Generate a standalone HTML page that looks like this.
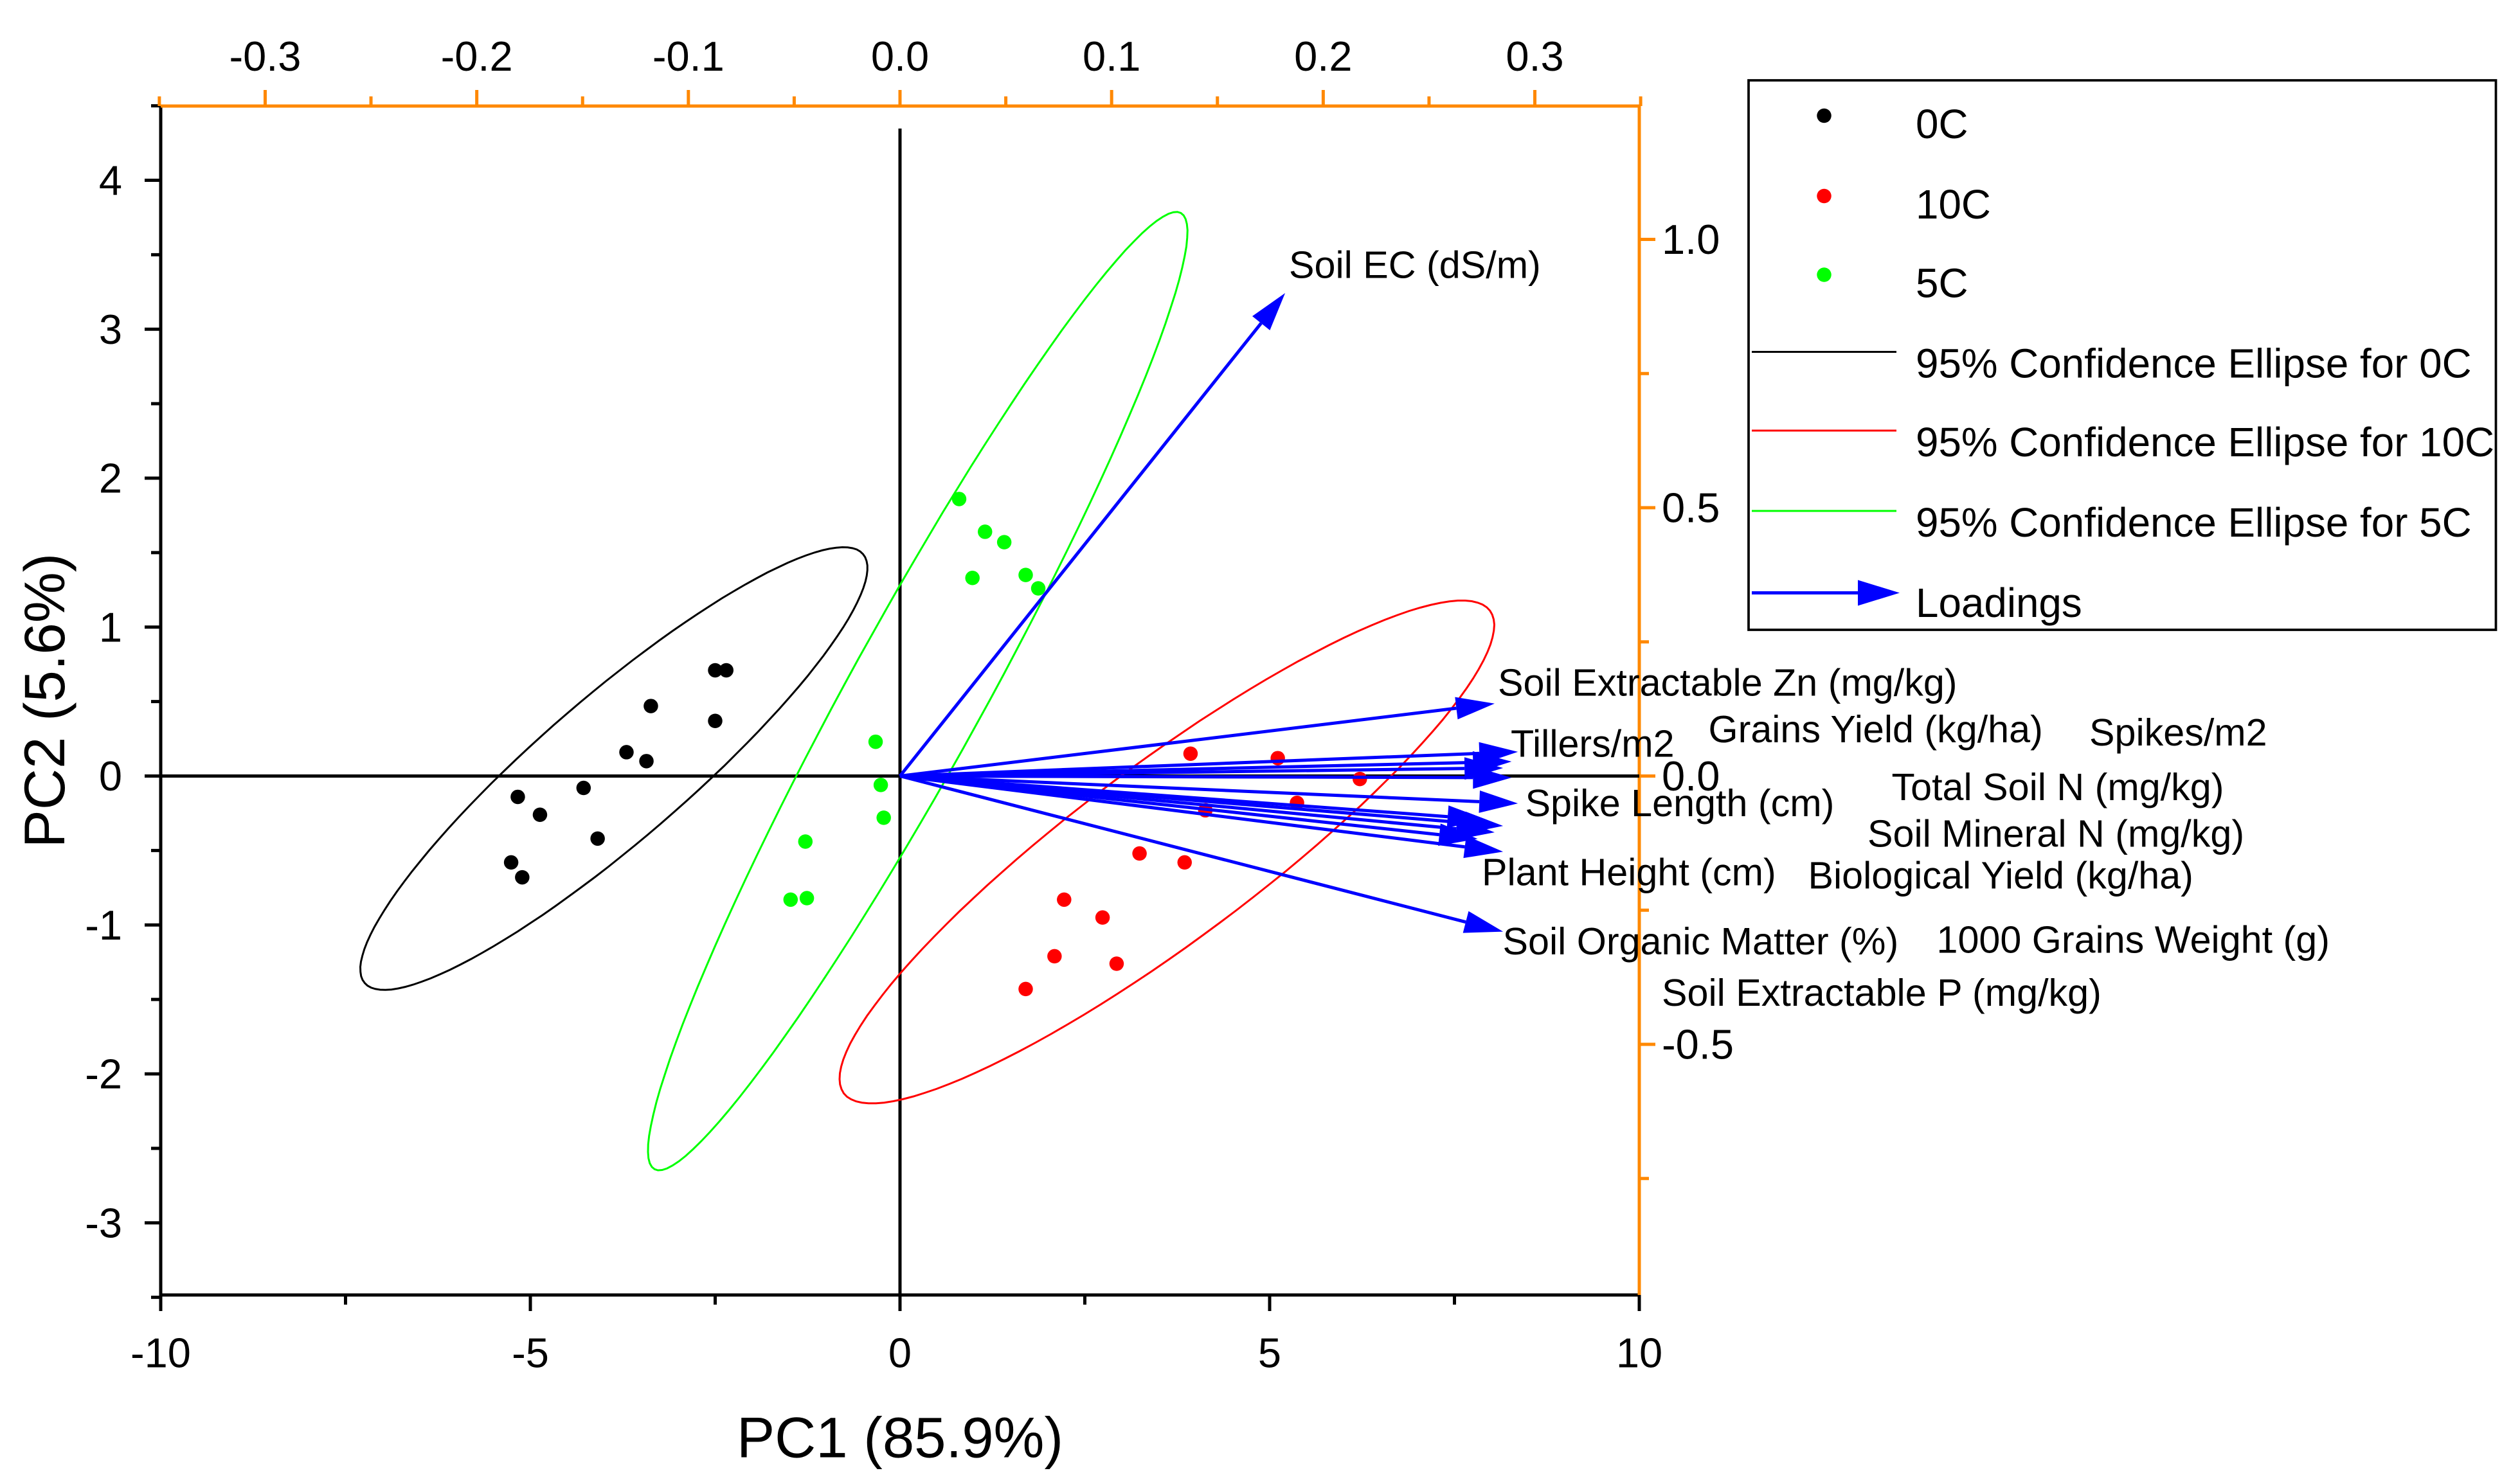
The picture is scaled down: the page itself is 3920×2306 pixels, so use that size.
<!DOCTYPE html>
<html><head><meta charset="utf-8"><style>
html,body{margin:0;padding:0;background:#fff}
svg{display:block;font-family:"Liberation Sans",sans-serif}
</style></head><body>
<svg id="chart" width="3920" height="2306" viewBox="0 0 1568 922.4" xmlns="http://www.w3.org/2000/svg">
<g id="g"></g>
</svg>
<script>
// ---- data ----
const black_x=[-2.5,-2.35,-3.37,-3.70,-3.43,-2.50,-4.28,-5.17,-4.87,-4.09,-5.26,-5.11];
const black_y=[0.71,0.71,0.47,0.16,0.10,0.37,-0.08,-0.14,-0.26,-0.42,-0.58,-0.68];
const red_x=[3.93,5.11,6.22,5.37,4.13,3.24,3.85,2.22,2.74,2.09,2.93,1.70];
const red_y=[0.15,0.12,-0.02,-0.18,-0.23,-0.52,-0.58,-0.83,-0.95,-1.21,-1.26,-1.43];
const green_x=[0.80,1.15,1.41,1.70,0.98,1.87,-0.33,-0.26,-0.22,-1.28,-1.26,-1.48];
const green_y=[1.86,1.64,1.57,1.35,1.33,1.26,0.23,-0.06,-0.28,-0.44,-0.82,-0.83];
const load_names=["soil-ec","soil-zn","tillers","grains-yield","spikes","total-soil-n","spike-length","soil-mineral-n","plant-height","biological-yield","grains-weight","soil-p","soil-om"];
const load_x=[0.182,0.281,0.292,0.289,0.285,0.289,0.292,0.285,0.285,0.277,0.281,0.273,0.285];
const load_y=[0.90,0.135,0.045,0.027,0.015,-0.003,-0.051,-0.093,-0.141,-0.081,-0.105,-0.117,-0.290];
const ell_cx=[-3.87,0.24,3.61], ell_cy=[0.05,0.57,-0.51];
const ell_ex=[-0.5,3.80,7.98], ell_ey=[1.49,3.78,1.11];
const ell_minor=[45,42,55];
const ell_col=["#000","#0f0","#f00"];
const xticks=[-10,-5,0,5,10], yticks=[-3,-2,-1,0,1,2,3,4];
const tticks=[-0.3,-0.2,-0.1,0.0,0.1,0.2,0.3], rticks=[-0.5,0.0,0.5,1.0];

const L=100,R=1020,T=66,B=806;
const X=v=>560+v*46, Y=v=>483-v*92.7;
const TX=v=>560+v*1316.7, RY=v=>483-v*334;
const g=document.getElementById('g');
const NS="http://www.w3.org/2000/svg";
function mk(tag,at,txt){const e=document.createElementNS(NS,tag);for(const k in at)e.setAttribute(k,at[k]);if(txt!=null)e.textContent=txt;g.appendChild(e);return e;}

let e;
e=mk('line',{x1:L,y1:B,x2:R,y2:B,stroke:'#000','stroke-width':2});

e=mk('line',{x1:L,y1:T,x2:L,y2:B,stroke:'#000','stroke-width':2});

e=mk('line',{x1:L,y1:T,x2:R,y2:T,stroke:'#f80','stroke-width':2});

e=mk('line',{x1:R,y1:T,x2:R,y2:B,stroke:'#f80','stroke-width':2});

for(let v=-10;v<=10;v+=2.5){mk('line',{x1:X(v),y1:B,x2:X(v),y2:B+(v%5===0?10:6),stroke:'#000','stroke-width':2});}
xticks.forEach(v=>{e=mk('text',{x:X(v),y:B+45,'font-size':26,'text-anchor':'middle'},String(v));
});
for(let v=-3.5;v<=4.5;v+=0.5){mk('line',{x1:L,y1:Y(v),x2:L-(Number.isInteger(v)?10:6),y2:Y(v),stroke:'#000','stroke-width':2});}
yticks.forEach(v=>{e=mk('text',{x:L-24,y:Y(v)+9,'font-size':26,'text-anchor':'end'},String(v));
});
for(let v=-0.35;v<=0.35;v+=0.05){const px=TX(v);if(px<L-1||px>R+1)continue;mk('line',{x1:px,y1:T,x2:px,y2:T-(Math.abs(Math.round(v*100))%10===0?10:6),stroke:'#f80','stroke-width':2});}
tticks.forEach(v=>{e=mk('text',{x:TX(v),y:T-22,'font-size':26,'text-anchor':'middle'},v.toFixed(1));
});
for(let v=-1;v<=1.25;v+=0.25){const py=RY(v);if(py<T||py>B)continue;mk('line',{x1:R,y1:py,x2:R+(Math.abs(v*2)%1===0?10:6),y2:py,stroke:'#f80','stroke-width':2});}
rticks.forEach(v=>{e=mk('text',{x:R+14,y:RY(v)+9,'font-size':26},v.toFixed(1));
});
e=mk('text',{x:560,y:907,'font-size':35.5,'text-anchor':'middle'},'PC1 (85.9%)');

e=mk('text',{x:40,y:436,'font-size':35.5,'text-anchor':'middle',transform:'rotate(-90 40 436)'},'PC2 (5.6%)');

e=mk('line',{x1:X(0),y1:80,x2:X(0),y2:B,stroke:'#000','stroke-width':2});

e=mk('line',{x1:L,y1:Y(0),x2:R,y2:Y(0),stroke:'#000','stroke-width':2});


for(let i=0;i<3;i++){
 const cx=X(ell_cx[i]),cy=Y(ell_cy[i]),ax=X(ell_ex[i])-cx,ay=Y(ell_ey[i])-cy;
 const len=Math.hypot(ax,ay),px=-ay/len*ell_minor[i],py=ax/len*ell_minor[i];
 let d='';for(let k=0;k<=120;k++){const t=k/120*2*Math.PI;const x=cx+Math.cos(t)*ax+Math.sin(t)*px,y=cy+Math.cos(t)*ay+Math.sin(t)*py;d+=(k?'L':'M')+x.toFixed(1)+' '+y.toFixed(1);}
 e=mk('path',{d:d+'Z',fill:'none',stroke:ell_col[i],'stroke-width':1.2});
 
}
[[black_x,black_y,'#000'],[red_x,red_y,'#f00'],[green_x,green_y,'#0f0']].forEach(s=>{
 s[0].forEach((v,i)=>{e=mk('circle',{cx:X(v),cy:Y(s[1][i]),r:4.5,fill:s[2]});
 });
});
load_x.forEach((v,i)=>{
 const x0=X(0),y0=Y(0),x1=TX(v),y1=RY(load_y[i]);
 const dx=x1-x0,dy=y1-y0,l=Math.hypot(dx,dy),ux=dx/l,uy=dy/l;
 const bx=x1-ux*24,by=y1-uy*24;
 e=mk('line',{x1:x0,y1:y0,x2:bx,y2:by,stroke:'#00f','stroke-width':2});
 
 e=mk('polygon',{points:`${x1},${y1} ${bx-uy*7},${by+ux*7} ${bx+uy*7},${by-ux*7}`,fill:'#00f'});
 
});
</script>
<svg style="position:absolute;left:0;top:0" width="3920" height="2306" viewBox="0 0 1568 922.4" xmlns="http://www.w3.org/2000/svg" font-family="Liberation Sans, sans-serif" font-size="23.7">
<g>
<text x="802" y="173">Soil EC (dS/m)</text>
<text x="932" y="433">Soil Extractable Zn (mg/kg)</text>
<text x="940" y="471">Tillers/m2</text>
<text x="1063" y="462">Grains Yield (kg/ha)</text>
<text x="1300" y="464">Spikes/m2</text>
<text x="1177" y="498">Total Soil N (mg/kg)</text>
<text x="949" y="508">Spike Length (cm)</text>
<text x="1162" y="527">Soil Mineral N (mg/kg)</text>
<text x="922" y="551">Plant Height (cm)</text>
<text x="1125" y="553">Biological Yield (kg/ha)</text>
<text x="935" y="594">Soil Organic Matter (%)</text>
<text x="1205" y="593">1000 Grains Weight (g)</text>
<text x="1034" y="626">Soil  Extractable P (mg/kg)</text>
</g>
<g font-size="25.5">
<rect x="1088" y="50" width="465" height="342" fill="#fff" stroke="#000" stroke-width="1.5"/>
<circle cx="1135" cy="72" r="4.5" fill="#000"/><text x="1192" y="86">0C</text>
<circle cx="1135" cy="122" r="4.5" fill="#f00"/><text x="1192" y="136">10C</text>
<circle cx="1135" cy="171" r="4.5" fill="#0f0"/><text x="1192" y="185">5C</text>
<line x1="1090" y1="219" x2="1180" y2="219" stroke="#000" stroke-width="1.2"/><text x="1192" y="235">95% Confidence Ellipse for 0C</text>
<line x1="1090" y1="268" x2="1180" y2="268" stroke="#f00" stroke-width="1.2"/><text x="1192" y="284">95% Confidence Ellipse for 10C</text>
<line x1="1090" y1="318" x2="1180" y2="318" stroke="#0f0" stroke-width="1.2"/><text x="1192" y="334">95% Confidence Ellipse for 5C</text>
<line x1="1090" y1="369" x2="1158" y2="369" stroke="#00f" stroke-width="2"/><polygon points="1182,369 1156,361 1156,377" fill="#00f"/><text x="1192" y="384">Loadings</text>
</g>
</svg>
</body></html>
